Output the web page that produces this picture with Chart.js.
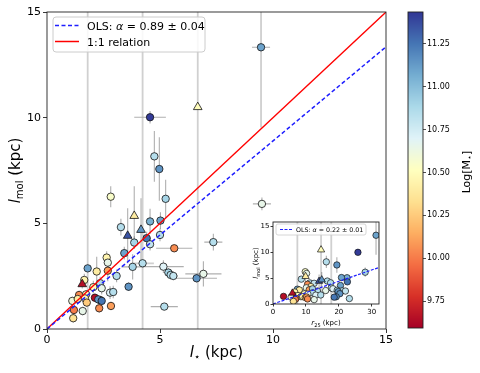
<!DOCTYPE html>
<html>
<head>
<meta charset="utf-8">
<script src="https://cdn.jsdelivr.net/npm/chart.js@4.4.1/dist/chart.umd.min.js"></script>
<style>
  body { margin: 0; background: #fff; }
  #wrap { position: relative; width: 480px; height: 373px; }
  canvas { position: absolute; }
  #main { left: 0; top: 0; }
  #cbar { left: 390px; top: 0; }
  #inset { left: 244px; top: 212px; }
</style>
</head>
<body>
<div id="wrap">
  <canvas id="main" width="480" height="373"></canvas>
  <canvas id="cbar" width="90" height="373"></canvas>
  <canvas id="inset" width="140" height="116"></canvas>
</div>
<script>
// one entry per galaxy
const lStar = [4.56, 6.67, 4.75, 4.97, 2.82, 5.25, 3.86, 3.27, 4.56, 5.02,
               3.57, 4.16, 4.41, 5.00, 3.86, 4.56, 5.63, 7.36, 3.42, 2.64,
               2.69, 1.80, 2.20, 2.69, 3.08, 3.79, 4.23, 5.15, 5.37, 5.47,
               5.59, 6.92, 6.62, 3.61, 5.19, 1.56, 1.65, 2.35, 2.05, 2.42,
               2.79, 2.93, 1.42, 1.73, 1.12, 1.36, 1.68, 1.76, 2.12, 2.35,
               2.27, 2.42, 2.31, 2.83, 1.19, 1.58, 1.16, 9.47, 9.51];
const lMol = [10.02, 10.50, 8.17, 7.57, 6.26, 6.16, 5.35, 4.82, 5.09, 5.13,
              4.41, 4.69, 4.30, 4.45, 4.09, 4.01, 3.82, 4.11, 3.59, 3.38,
              3.14, 2.87, 2.72, 2.76, 2.51, 2.94, 3.11, 2.95, 2.67, 2.56,
              2.51, 2.61, 2.40, 2.00, 1.06, 2.12, 2.32, 2.17, 1.98, 1.93,
              1.72, 1.75, 1.61, 1.64, 1.33, 1.42, 1.45, 1.25, 1.48, 1.37,
              1.40, 1.33, 0.98, 1.09, 0.90, 0.85, 0.51, 13.33, 5.92];
const logMass = [11.42, 10.50, 10.85, 11.15, 10.55, 10.90, 10.40, 10.85, 11.05, 11.10,
                 11.35, 11.15, 11.25, 10.85, 10.90, 10.80, 10.05, 10.85, 11.10, 10.45,
                 10.65, 11.10, 10.40, 10.10, 10.85, 10.90, 10.85, 10.70, 10.90, 10.85,
                 10.80, 10.65, 11.15, 11.15, 10.85, 9.65, 10.45, 10.85, 10.50, 10.65,
                 10.70, 10.85, 10.05, 10.50, 10.60, 10.40, 10.45, 10.25, 9.65, 10.10,
                 11.15, 11.25, 10.05, 10.10, 10.00, 10.65, 10.35, 11.10, 10.65];
// 't' = triangle marker, 'o' = circle
const marker = ['o','t','o','o','o','o','t','o','o','o',
                't','t','o','o','o','o','o','o','o','o',
                'o','o','o','o','o','o','o','o','o','o',
                'o','o','o','o','o','t','o','o','o','o',
                'o','o','o','o','o','o','o','o','o','o',
                'o','o','o','o','o','o','o','o','o'];
const lStarErr = [0.7, 0, 0.1, 0.1, 0.1, 0.1, 0, 0.1, 0.1, 0.1,
                  0, 0, 0.1, 0.1, 0.1, 0.1, 0.8, 0.4, 0.1, 0.1,
                  0.1, 0.1, 0.1, 0.1, 0.1, 0.5, 0.5, 0.9, 0.2, 0.2,
                  0.2, 0.8, 0.9, 0.1, 0.6, 0, 0.1, 0.1, 0.1, 0.1,
                  0.1, 0.1, 0.1, 0.1, 0.1, 0.1, 0.1, 0.1, 0.1, 0.1,
                  0.1, 0.1, 0.1, 0.1, 0.1, 0.1, 0.1, 0.4, 0.4];
const lMolErr = [0.3, 20, 1.2, 1.5, 0.5, 0.9, 1.4, 0.4, 0.6, 0.4,
                 1.3, 1.5, 0.3, 0.3, 0.3, 0.3, 0.1, 0.4, 0.3, 0.3,
                 0.3, 20, 0.7, 0.5, 0.3, 0.6, 20, 0.3, 0.2, 0.2,
                 0.2, 0.6, 0.2, 0.2, 0.1, 0.2, 0.3, 0.3, 0.3, 0.3,
                 0.3, 0.3, 0.2, 0.2, 0.2, 0.2, 0.2, 0.2, 0.2, 0.2,
                 0.2, 0.2, 0.2, 0.2, 0.2, 0.2, 0.2, 3.8, 0.3];
const r25 = [25.8, 14.6, 16.2, 19.4, 9.8, 28.0, 9.9, 8.6, 22.5, 20.8,
             14.0, 14.8, 22.6, 16.5, 11.2, 12.5, 10.5, 17.5, 20.5, 11.5,
             10.1, 7.4, 8.0, 11.0, 13.5, 12.0, 17.7, 18.2, 19.5, 21.0,
             22.0, 16.0, 19.8, 20.3, 23.2, 5.9, 6.6, 12.0, 9.5, 10.6,
             13.0, 14.5, 6.7, 7.6, 5.5, 8.5, 9.0, 9.8, 3.2, 10.2,
             19.2, 18.6, 10.5, 7.0, 6.8, 12.5, 6.2, 31.3, 10.2];

const olsSlope = 0.89, olsErr = 0.04;
const insetSlope = 0.22, insetErr = 0.01;
const mainTicks = [0, 5, 10, 15];
const cbarTicks = [9.75, 10.00, 10.25, 10.50, 10.75, 11.00, 11.25];
const cbarRange = [9.593, 11.436];

const FONT = 'DejaVu Sans';
const RDYLBU = ['#a50026','#d73027','#f46d43','#fdae61','#fee090','#ffffbf',
                '#e0f3f8','#abd9e9','#74add1','#4575b4','#313695'];

function hexRgb(h) {
  return [parseInt(h.slice(1,3),16), parseInt(h.slice(3,5),16), parseInt(h.slice(5,7),16)];
}
function cmap(v) {
  let t = (v - cbarRange[0]) / (cbarRange[1] - cbarRange[0]);
  t = Math.max(0, Math.min(1, t)) * (RDYLBU.length - 1);
  const i = Math.min(Math.floor(t), RDYLBU.length - 2), f = t - i;
  const a = hexRgb(RDYLBU[i]), b = hexRgb(RDYLBU[i + 1]);
  return 'rgb(' + a.map((c, k) => Math.round(c + (b[k] - c) * f)).join(',') + ')';
}

function pointsFor(xs, shape) {
  const pts = [], cols = [];
  xs.forEach((x, i) => {
    if (marker[i] !== shape) return;
    pts.push({ x: x, y: lMol[i] });
    cols.push(cmap(logMass[i]));
  });
  return { pts, cols };
}

// text with italic/subscript pieces
function drawRich(ctx, parts, cx, cy, rot) {
  ctx.save();
  ctx.translate(cx, cy);
  ctx.rotate(rot || 0);
  let w = 0;
  parts.forEach(p => { ctx.font = p.font; w += ctx.measureText(p.text).width; });
  let x = -w / 2;
  ctx.textAlign = 'left';
  ctx.textBaseline = 'alphabetic';
  ctx.fillStyle = '#000';
  parts.forEach(p => {
    ctx.font = p.font;
    ctx.fillText(p.text, x, p.dy || 0);
    x += ctx.measureText(p.text).width;
  });
  ctx.restore();
}
function drawParts(ctx, parts, x, y) {
  ctx.textAlign = 'left';
  ctx.textBaseline = 'alphabetic';
  ctx.fillStyle = '#000';
  parts.forEach(p => {
    ctx.font = p.font;
    ctx.fillText(p.text, x, y + (p.dy || 0));
    x += ctx.measureText(p.text).width;
  });
}

function errorBars(xs, xe) {
  return {
    id: 'errorBars',
    beforeDatasetsDraw(chart) {
      const { ctx, chartArea: a, scales: { x, y } } = chart;
      ctx.save();
      ctx.beginPath();
      ctx.rect(a.left, a.top, a.width, a.height);
      ctx.clip();
      xs.forEach((xv, i) => {
        const yv = lMol[i], px = x.getPixelForValue(xv), py = y.getPixelForValue(yv);
        const big = lMolErr[i] >= 10;
        ctx.strokeStyle = big ? 'rgba(170,170,170,0.55)' : 'rgba(110,110,110,0.55)';
        ctx.lineWidth = big ? 1.8 : 1.1;
        ctx.beginPath();
        if (xe && xe[i] > 0) {
          ctx.moveTo(x.getPixelForValue(xv - xe[i]), py);
          ctx.lineTo(x.getPixelForValue(xv + xe[i]), py);
        }
        if (lMolErr[i] > 0) {
          ctx.moveTo(px, y.getPixelForValue(yv - lMolErr[i]));
          ctx.lineTo(px, y.getPixelForValue(yv + lMolErr[i]));
        }
        ctx.stroke();
      });
      ctx.restore();
    }
  };
}

const frame = {
  id: 'frame',
  afterDraw(chart) {
    const { ctx, chartArea: a } = chart;
    ctx.save();
    ctx.strokeStyle = '#222';
    ctx.lineWidth = 0.9;
    ctx.strokeRect(a.left, a.top, a.width, a.height);
    ctx.restore();
  }
};

function axisOpts(min, max, step, fontSize, tickLen, pad, fit) {
  return {
    type: 'linear', min: min, max: max,
    afterFit: fit,
    ticks: { stepSize: step, includeBounds: false, color: '#000', padding: pad,
             maxRotation: 0, font: { family: FONT, size: fontSize } },
    grid: { drawOnChartArea: false, drawTicks: true, tickLength: tickLen, color: '#222', lineWidth: 0.9 },
    border: { display: false }
  };
}

// ---------- main chart ----------
const mainCirc = pointsFor(lStar, 'o');
const mainTri = pointsFor(lStar, 't');

const mainText = {
  id: 'mainText',
  afterDraw(chart) {
    const { ctx, chartArea: a } = chart;
    drawRich(ctx, [
      { text: 'l', font: 'italic 15px ' + FONT },
      { text: '\u22C6', font: '10px ' + FONT, dy: 3 },
      { text: ' (kpc)', font: '15px ' + FONT }
    ], (a.left + a.right) / 2, 357);
    drawRich(ctx, [
      { text: 'l', font: 'italic 15px ' + FONT },
      { text: 'mol', font: '10px ' + FONT, dy: 3 },
      { text: ' (kpc)', font: '15px ' + FONT }
    ], 20, (a.top + a.bottom) / 2, -Math.PI / 2);

    // legend
    const bx = a.left + 6, by = a.top + 5;
    ctx.save();
    ctx.fillStyle = 'rgba(255,255,255,0.85)';
    ctx.strokeStyle = '#cccccc';
    ctx.lineWidth = 1;
    ctx.beginPath();
    ctx.roundRect(bx, by, 152, 35, 3);
    ctx.fill();
    ctx.stroke();
    ctx.lineWidth = 1.5;
    ctx.strokeStyle = '#1f1fff';
    ctx.setLineDash([4, 2.5]);
    ctx.beginPath(); ctx.moveTo(bx + 2, by + 8.5); ctx.lineTo(bx + 26, by + 8.5); ctx.stroke();
    ctx.setLineDash([]);
    ctx.strokeStyle = '#ff0000';
    ctx.beginPath(); ctx.moveTo(bx + 2, by + 24.5); ctx.lineTo(bx + 26, by + 24.5); ctx.stroke();
    drawParts(ctx, [
      { text: 'OLS: ', font: '11px ' + FONT },
      { text: '\u03B1', font: 'italic 11px ' + FONT },
      { text: ' = ' + olsSlope.toFixed(2) + ' \u00B1 ' + olsErr.toFixed(2), font: '11px ' + FONT }
    ], bx + 34, by + 13);
    drawParts(ctx, [{ text: '1:1 relation', font: '11px ' + FONT }], bx + 34, by + 29);
    ctx.restore();
  }
};

new Chart(document.getElementById('main'), {
  type: 'scatter',
  data: {
    datasets: [
      { data: [0, 15].map(v => ({ x: v, y: olsSlope * v })), showLine: true, borderColor: '#1f1fff',
        borderDash: [4, 2.5], borderWidth: 1.5, pointRadius: 0, order: 0 },
      { data: [0, 15].map(v => ({ x: v, y: v })), showLine: true, borderColor: '#ff0000',
        borderWidth: 1.3, pointRadius: 0, order: 1 },
      { data: mainTri.pts, backgroundColor: mainTri.cols, borderColor: '#111', borderWidth: 0.8,
        pointStyle: 'triangle', pointRadius: 5, order: 2 },
      { data: mainCirc.pts, backgroundColor: mainCirc.cols, borderColor: '#111', borderWidth: 0.8,
        pointRadius: 3.7, order: 3 }
    ]
  },
  options: {
    responsive: false, animation: false, events: [],
    layout: { padding: { left: 0, right: 94, top: 12, bottom: 0 } },
    plugins: { legend: { display: false }, tooltip: { enabled: false } },
    scales: {
      x: axisOpts(mainTicks[0], mainTicks[3], 5, 11, 4, 1, s => { s.height = 44; }),
      y: axisOpts(mainTicks[0], mainTicks[3], 5, 11, 4, 2, s => { s.width = 47; })
    }
  },
  plugins: [errorBars(lStar, lStarErr), frame, mainText]
});

// ---------- colour bar ----------
const cbarPaint = {
  id: 'cbarPaint',
  beforeDatasetsDraw(chart) {
    const { ctx, chartArea: a, scales: { y } } = chart;
    for (let py = Math.floor(a.top); py < a.bottom; py++) {
      ctx.fillStyle = cmap(y.getValueForPixel(py + 0.5));
      ctx.fillRect(a.left, py, a.width, 1);
    }
  },
  afterDraw(chart) {
    drawRich(chart.ctx, [
      { text: 'Log[M', font: '11px ' + FONT },
      { text: '\u22C6', font: '8px ' + FONT, dy: 2 },
      { text: ']', font: '11px ' + FONT }
    ], 80, 172, -Math.PI / 2);
  }
};

new Chart(document.getElementById('cbar'), {
  type: 'scatter',
  data: { datasets: [] },
  options: {
    responsive: false, animation: false, events: [],
    layout: { padding: { left: 18, right: 0, top: 12, bottom: 45 } },
    plugins: { legend: { display: false }, tooltip: { enabled: false } },
    scales: {
      x: { display: false },
      y: {
        type: 'linear', position: 'right', min: cbarRange[0], max: cbarRange[1],
        afterFit(s) { s.width = 57; },
        afterBuildTicks(s) { s.ticks = cbarTicks.map(v => ({ value: v })); },
        ticks: { color: '#000', padding: 1, font: { family: FONT, size: 8 },
                 callback: v => Number(v).toFixed(2) },
        grid: { drawOnChartArea: false, drawTicks: true, tickLength: 3, color: '#222', lineWidth: 0.8 },
        border: { display: false }
      }
    }
  },
  plugins: [cbarPaint, frame]
});

// ---------- inset: l_mol vs r25 ----------
const insCirc = pointsFor(r25, 'o');
const insTri = pointsFor(r25, 't');

const insetText = {
  id: 'insetText',
  beforeDraw(chart) {
    const { ctx, width, height } = chart;
    ctx.save();
    ctx.fillStyle = '#fff';
    ctx.fillRect(0, 0, width, height);
    ctx.restore();
  },
  afterDraw(chart) {
    const { ctx, chartArea: a } = chart;
    drawRich(ctx, [
      { text: 'r', font: 'italic 7px ' + FONT },
      { text: '25', font: '5px ' + FONT, dy: 1.5 },
      { text: ' (kpc)', font: '7px ' + FONT }
    ], (a.left + a.right) / 2, 113);
    drawRich(ctx, [
      { text: 'l', font: 'italic 7px ' + FONT },
      { text: 'mol', font: '5px ' + FONT, dy: 1.5 },
      { text: ' (kpc)', font: '7px ' + FONT }
    ], 14, (a.top + a.bottom) / 2, -Math.PI / 2);

    const bx = a.left + 3, by = a.top + 2;
    ctx.save();
    ctx.fillStyle = 'rgba(255,255,255,0.85)';
    ctx.strokeStyle = '#cccccc';
    ctx.lineWidth = 0.8;
    ctx.beginPath();
    ctx.roundRect(bx, by, 90, 11, 2);
    ctx.fill();
    ctx.stroke();
    ctx.strokeStyle = '#1f1fff';
    ctx.lineWidth = 1.2;
    ctx.setLineDash([3, 1.5]);
    ctx.beginPath(); ctx.moveTo(bx + 4, by + 5.5); ctx.lineTo(bx + 16, by + 5.5); ctx.stroke();
    ctx.setLineDash([]);
    drawParts(ctx, [
      { text: 'OLS: ', font: '6.3px ' + FONT },
      { text: '\u03B1', font: 'italic 6.3px ' + FONT },
      { text: ' = ' + insetSlope.toFixed(2) + ' \u00B1 ' + insetErr.toFixed(2), font: '6.3px ' + FONT }
    ], bx + 20, by + 8);
    ctx.restore();
  }
};

new Chart(document.getElementById('inset'), {
  type: 'scatter',
  data: {
    datasets: [
      { data: [0, 32.2].map(v => ({ x: v, y: insetSlope * v })), showLine: true, borderColor: '#1f1fff',
        borderDash: [3, 1.5], borderWidth: 1.2, pointRadius: 0, order: 0 },
      { data: insTri.pts, backgroundColor: insTri.cols, borderColor: '#111', borderWidth: 0.7,
        pointStyle: 'triangle', pointRadius: 4.2, order: 2 },
      { data: insCirc.pts, backgroundColor: insCirc.cols, borderColor: '#111', borderWidth: 0.7,
        pointRadius: 3.2, order: 3 }
    ]
  },
  options: {
    responsive: false, animation: false, events: [],
    layout: { padding: { left: 0, right: 5, top: 10, bottom: 0 } },
    plugins: { legend: { display: false }, tooltip: { enabled: false } },
    scales: {
      x: axisOpts(0, 32.2, 10, 7, 2.5, 1, s => { s.height = 24; }),
      y: axisOpts(0, 15.9, 5, 7, 2.5, 1, s => { s.width = 29; })
    }
  },
  plugins: [errorBars(r25, null), frame, insetText]
});
</script>
</body>
</html>
